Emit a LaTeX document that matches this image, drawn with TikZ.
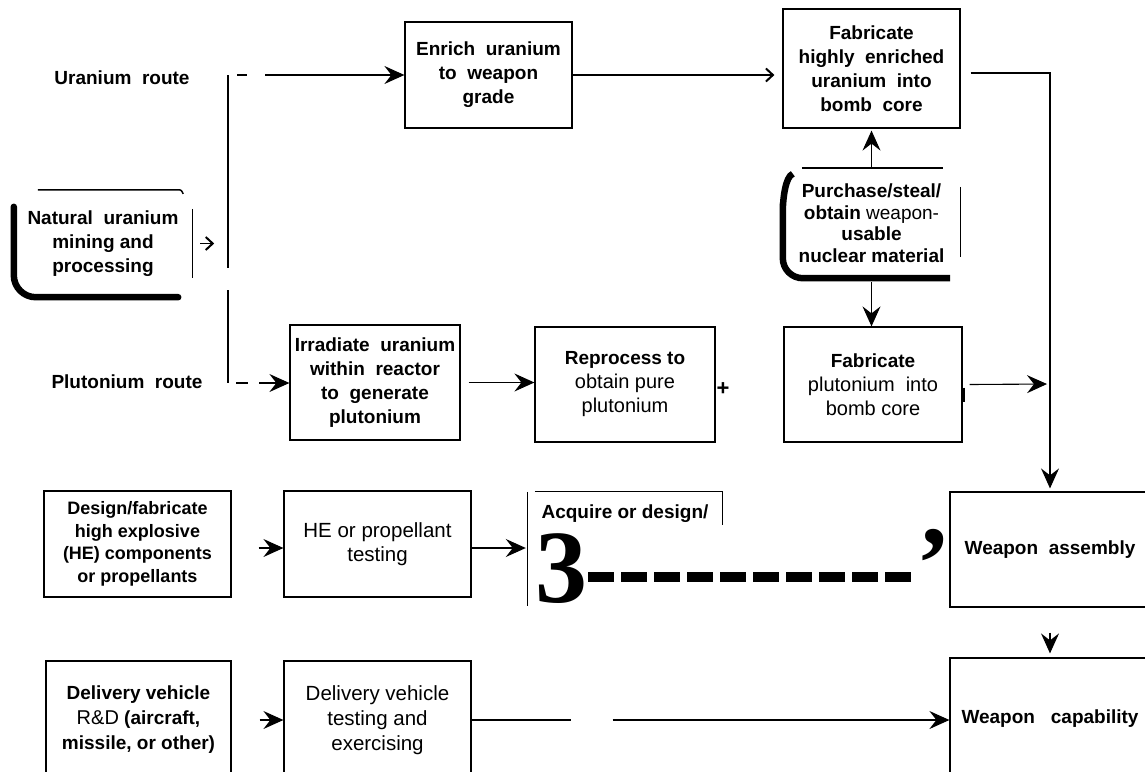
\documentclass[tikz,border=0pt]{standalone}
\usepackage{fontspec}
\setmainfont{Liberation Sans}
\newfontfamily\bigserif{Liberation Serif}
\usetikzlibrary{arrows.meta,calc}
\begin{document}
\begin{tikzpicture}[x=1pt,y=-1pt,
  lbl/.style={font=\bfseries\fontsize{19}{24}\selectfont, align=center, inner sep=0pt},
  box/.style={draw, line width=1.2pt, inner sep=0pt, align=center, font=\bfseries\fontsize{19}{24}\selectfont},
  plain/.style={inner sep=0pt, align=center, font=\bfseries\fontsize{19}{24}\selectfont},
  reg/.style={font=\fontsize{20.5}{24}\selectfont},
  conn/.style={line width=1.1pt},
  arr/.style={conn, -{Stealth[length=20pt,width=18pt,inset=7pt]}},
  barb/.style={conn, -{Straight Barb[length=7pt,width=13pt,line width=2pt]}},
  edge/.style={line width=1.2pt},
]
\clip (0,0) rectangle (1145,771);
\fill[white] (0,0) rectangle (1145,771);

% labels
\node[lbl] (ur) at (122,78) {Uranium\ \ route};
\node[lbl] (pr) at (127,382) {Plutonium\ \ route};

% boxes
\node[plain, minimum width=178pt, minimum height=107pt] (nat) at (103,243.5) {Natural\ \ uranium\\mining and\\processing};
\node[box, minimum width=167pt, minimum height=106pt] (enr) at (488.5,75) {Enrich\ \ uranium\\to\ \ weapon\\grade};
\node[box, minimum width=177pt, minimum height=119pt] (heu) at (871.5,68.5) {Fabricate\\highly\ \ enriched\\uranium\ \ into\\bomb\ \ core};
\node[plain, minimum width=177pt, minimum height=110pt, font=\bfseries\fontsize{19}{21.5}\selectfont] (pur) at (871.5,223) {Purchase/steal/\\obtain {\mdseries weapon-}\\usable\\nuclear material};
\node[box, minimum width=170pt, minimum height=115pt] (irr) at (375,382.5) {Irradiate\ \ uranium\\within\ \ reactor\\to\ \ generate\\plutonium};
\node[box, minimum width=180pt, minimum height=115pt] (rep) at (625,384.5) {Reprocess to\\{\mdseries\fontsize{20}{24}\selectfont obtain pure}\\{\mdseries\fontsize{20}{24}\selectfont plutonium}};
\node[box, minimum width=178pt, minimum height=115pt] (fpu) at (873,384.5) {Fabricate\\{\mdseries\fontsize{20}{24}\selectfont plutonium\ \ into}\\{\mdseries\fontsize{20}{24}\selectfont bomb core}};
\node[box, minimum width=187pt, minimum height=106pt, font=\bfseries\fontsize{18}{22.5}\selectfont] (des) at (137.5,544) {Design/fabricate\\high explosive\\(HE) components\\or propellants};
\node[box, minimum width=187pt, minimum height=106pt, reg] (he) at (377.5,544) {HE or propellant\\testing};
\node[minimum width=194pt, minimum height=108pt, inner sep=0pt] (acq) at (625,546) {};
\node[lbl] (acqt) at (625,514) {Acquire or design/};
\node[box, minimum width=200pt, minimum height=115pt] (wa) at (1050,549.5) {Weapon\ \ assembly};
\node[box, minimum width=200pt, minimum height=122pt] (wc) at (1050,719) {Weapon\ \ \ capability};
\node[box, minimum width=185pt, minimum height=118pt, font=\bfseries\fontsize{19}{25}\selectfont] (drd) at (138.5,720) {Delivery vehicle\\{\mdseries\fontsize{20}{25}\selectfont R\&D} (aircraft,\\missile, or other)};
\node[box, minimum width=187pt, minimum height=118pt, font=\fontsize{20.5}{25}\selectfont] (dvt) at (377.5,720) {Delivery vehicle\\testing and\\exercising};

% custom borders: natural uranium
\draw[line width=1.5pt] ($(nat.north west)+(24,0)$) -- ($(nat.north east)+(-15,0)$) .. controls ($(nat.north east)+(-11,0)$) .. ($(nat.north east)+(-9,4)$);
\draw[line width=6.5pt, line cap=round, rounded corners=22pt] ($(nat.north west)+(0,17)$) -- (nat.south west) -- ($(nat.south east)+(-14,0)$);
\draw[edge] ($(nat.north east)+(0,19)$) -- ($(nat.south east)+(0,-19)$);

% custom borders: purchase
\draw[line width=1.8pt] ($(pur.north west)+(19,0)$) -- ($(pur.north east)+(-17,0)$);
\draw[line width=6.5pt, rounded corners=20pt] ($(pur.north west)+(10,6)$) to[out=200,in=-90] ($(pur.north west)+(0,24)$) -- (pur.south west) -- ($(pur.south east)+(-10,0)$);
\draw[edge] ($(pur.north east)+(0,19)$) -- ($(pur.south east)+(0,-21)$);

% custom borders: acquire
\draw[edge] (acq.north west) -- ($(acq.south west)+(0,6)$);
\draw[edge] ($(acq.north west)+(7,0)$) -- (acq.north east) -- ($(acq.north east)+(0,33)$);
\node[font=\bigserif\bfseries\fontsize{104}{104}\selectfont, inner sep=0pt, anchor=base] (three) at (561,602) {3};
\coordinate (dA) at (588,577);
\coordinate (dB) at (912,577);
\draw[line width=10pt, dash pattern=on 26pt off 7pt] (dA) -- (dB);
\node[font=\bigserif\bfseries\fontsize{104}{104}\selectfont, inner sep=0pt, anchor=base] (quote) at (934,598) {’};

% junctions
\coordinate (jt) at (228,75);
\coordinate (jg1) at (228,268);
\coordinate (jg2) at (228,290);
\coordinate (jb) at (228,383);
\coordinate (jpu) at (1050,384);
\draw[conn] (jt) -- (jg1);
\draw[conn] (jg2) -- (jb);

% connectors
\draw[barb] ($(nat.east)+(8,0)$) -- ($(nat.east)+(22,0)$);
\draw[line width=2pt] ($(jt)+(9,0)$) -- ($(jt)+(19,0)$);
\draw[arr] ($(jt)+(37,0)$) -- (enr.west);
\draw[conn] ($(jb)+(8,0)$) -- ($(jb)+(20,0)$);
\draw[arr] ($(jb)+(31,0)$) -- (jb -| irr.west);
\draw[barb, shorten >=8pt] (enr.east) -- (enr.east -| heu.west);
\draw[arr, shorten >=3pt] ($(heu.east)+(10,4.5)$) -| (wa.north);
\draw[arr, shorten >=2pt] (pur.north) -- (pur.north |- heu.south);
\draw[arr, shorten <=4pt] (pur.south) -- (pur.south |- fpu.north);
\draw[arr, shorten <=8pt] (irr.east) -- (irr.east -| rep.west);
\node[font=\bfseries\fontsize{22}{22}\selectfont, inner sep=0pt] (plus) at (723,389) {+};
\draw[line width=3.5pt] ($(fpu.east)+(1,3)$) -- ($(fpu.east)+(1,17)$);
\draw[arr, shorten >=3pt] ($(fpu.east)+(7,0)$) -- (jpu);
\draw[arr] ($(des.east)+(27,4)$) -- ($(he.west)+(0,4)$);
\draw[arr, shorten >=2pt] ($(he.east)+(0,4)$) -- ($(he.east -| acq.west)+(0,4)$);
\draw[arr, shorten <=25pt, shorten >=4pt] (wa.south) -- (wc.north);
\draw[arr] ($(drd.east)+(28,0)$) -- (dvt.west);
\draw[conn] (dvt.east) -- ($(dvt.east)+(99,0)$);
\draw[arr] ($(dvt.east)+(141,0)$) -- (dvt.east -| wc.west);
\end{tikzpicture}
\end{document}
